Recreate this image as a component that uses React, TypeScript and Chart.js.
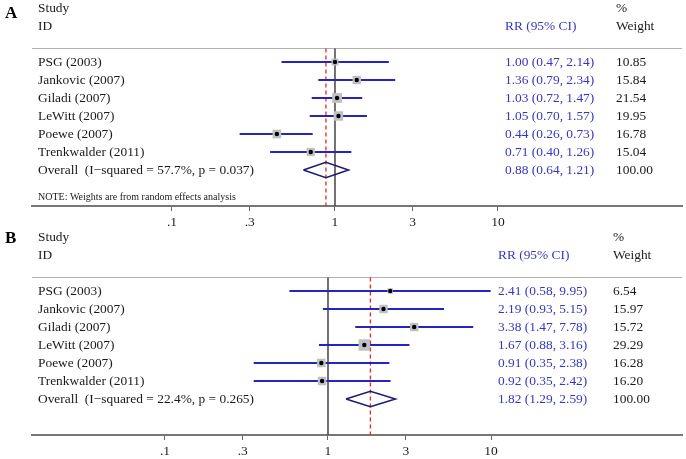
import React, { useEffect, useRef } from "react";
import { Chart, registerables } from "chart.js";
Chart.register(...registerables);

const studies = ["PSG (2003)", "Jankovic (2007)", "Giladi (2007)", "LeWitt (2007)", "Poewe (2007)", "Trenkwalder (2011)"];

const rrA = [1.0, 1.36, 1.03, 1.05, 0.44, 0.71];
const lowA = [0.47, 0.79, 0.72, 0.7, 0.26, 0.4];
const highA = [2.14, 2.34, 1.47, 1.57, 0.73, 1.26];
const weightA = [10.85, 15.84, 21.54, 19.95, 16.78, 15.04];
const overallA = [0.88, 0.64, 1.21];
const overallLabelA = "Overall  (I\u2212squared = 57.7%, p = 0.037)";

const rrB = [2.41, 2.19, 3.38, 1.67, 0.91, 0.92];
const lowB = [0.58, 0.93, 1.47, 0.88, 0.35, 0.35];
const highB = [9.95, 5.15, 7.78, 3.16, 2.38, 2.42];
const weightB = [6.54, 15.97, 15.72, 29.29, 16.28, 16.2];
const overallB = [1.82, 1.29, 2.59];
const overallLabelB = "Overall  (I\u2212squared = 22.4%, p = 0.265)";

const tickValues = [0.1, 0.3, 1, 3, 10];
const tickLabels = [".1", ".3", "1", "3", "10"];

const noteText = "NOTE: Weights are from random effects analysis";

const SERIF = '"Liberation Serif", "Times New Roman", serif';
const BLUE = "#2424c0";
const TEXT_BLUE = "#3535c8";
const NAVY = "#1c1c70";

type PanelProps = {
  letter: string;
  letterY: number;
  rr: number[];
  low: number[];
  high: number[];
  weight: number[];
  overall: number[];
  overallLabel: string;
  note: string | null;
  xMin: number;
  xMax: number;
  ciX: number;
  wX: number;
};

const fmt = (v: number) => v.toFixed(2);

function ForestPanel(p: PanelProps) {
  const ref = useRef<HTMLCanvasElement | null>(null);
  useEffect(() => {
    if (!ref.current) return;
    const n = p.rr.length;
    const sepY = -0.75;
    const yMin = -3.444;
    const yMax = 8;

    const datasets: any[] = [];
    datasets.push({
      label: "dots",
      data: p.rr.map((v, i) => ({ x: v, y: i })),
      pointStyle: "circle",
      pointRadius: 2.2,
      backgroundColor: "#000",
      borderColor: "#000",
      borderWidth: 0,
      showLine: false,
      order: 0,
    });
    datasets.push({
      label: "boxes",
      data: p.rr.map((v, i) => ({ x: v, y: i })),
      pointStyle: "rect",
      pointRadius: p.weight.map((w) => 1.5 * Math.sqrt(w)),
      backgroundColor: "#c0c0c0",
      borderWidth: 0,
      showLine: false,
      order: 1,
    });
    for (let i = 0; i < n; i++) {
      datasets.push({
        label: "ci" + i,
        data: [
          { x: p.low[i], y: i },
          { x: p.high[i], y: i },
        ],
        showLine: true,
        borderColor: BLUE,
        borderWidth: 2,
        pointRadius: 0,
        order: 2,
      });
    }
    const h = 0.43;
    datasets.push({
      label: "diamond",
      data: [
        { x: p.overall[1], y: n },
        { x: p.overall[0], y: n - h },
        { x: p.overall[2], y: n },
        { x: p.overall[0], y: n + h },
        { x: p.overall[1], y: n },
      ],
      showLine: true,
      borderColor: NAVY,
      borderWidth: 1.6,
      borderJoinStyle: "miter",
      pointRadius: 0,
      fill: false,
      order: 2,
    });
    datasets.push({
      label: "overallLine",
      data: [
        { x: p.overall[0], y: sepY },
        { x: p.overall[0], y: yMax },
      ],
      showLine: true,
      borderColor: "#f02424",
      borderWidth: 1.3,
      borderDash: [4, 3],
      pointRadius: 0,
      order: 3,
    });
    datasets.push({
      label: "nullLine",
      data: [
        { x: 1, y: sepY },
        { x: 1, y: yMax },
      ],
      showLine: true,
      borderColor: "#444",
      borderWidth: 1.5,
      pointRadius: 0,
      order: 4,
    });

    const textPlugin = {
      id: "forestText",
      beforeDatasetsDraw(chart: any) {
        const ctx = chart.ctx;
        const ys = chart.scales.y;
        const area = chart.chartArea;
        ctx.save();
        ctx.strokeStyle = "#b0b0b0";
        ctx.lineWidth = 1;
        const sy = Math.round(ys.getPixelForValue(sepY)) + 0.5;
        ctx.beginPath();
        ctx.moveTo(area.left, sy);
        ctx.lineTo(area.right, sy);
        ctx.stroke();
        ctx.restore();
      },
      afterDraw(chart: any) {
        const ctx = chart.ctx;
        const ys = chart.scales.y;
        ctx.save();
        ctx.textBaseline = "middle";
        ctx.textAlign = "left";
        ctx.fillStyle = "#000";
        ctx.font = "bold 17px " + SERIF;
        ctx.fillText(p.letter, 5, p.letterY);
        ctx.font = "13.4px " + SERIF;
        ctx.fillStyle = "#1a1a1a";
        ctx.fillText("Study", 38, ys.getPixelForValue(-2.95));
        ctx.fillText("ID", 38, ys.getPixelForValue(-2));
        ctx.fillText("%", p.wX, ys.getPixelForValue(-2.95));
        ctx.fillText("Weight", p.wX, ys.getPixelForValue(-2));
        ctx.fillStyle = TEXT_BLUE;
        ctx.fillText("RR (95% CI)", p.ciX, ys.getPixelForValue(-2));
        for (let i = 0; i < n; i++) {
          const y = ys.getPixelForValue(i);
          ctx.fillStyle = "#1a1a1a";
          ctx.fillText(studies[i], 38, y);
          ctx.fillText(fmt(p.weight[i]), p.wX, y);
          ctx.fillStyle = TEXT_BLUE;
          ctx.fillText(`${fmt(p.rr[i])} (${fmt(p.low[i])}, ${fmt(p.high[i])})`, p.ciX, y);
        }
        const yo = ys.getPixelForValue(n);
        ctx.fillStyle = "#1a1a1a";
        ctx.fillText(p.overallLabel, 38, yo);
        ctx.fillText("100.00", p.wX, yo);
        ctx.fillStyle = TEXT_BLUE;
        ctx.fillText(`${fmt(p.overall[0])} (${fmt(p.overall[1])}, ${fmt(p.overall[2])})`, p.ciX, yo);
        if (p.note) {
          ctx.fillStyle = "#1a1a1a";
          ctx.font = "10px " + SERIF;
          ctx.fillText(p.note, 38, ys.getPixelForValue(7.5));
        }
        ctx.restore();
      },
    };

    const chart = new Chart(ref.current, {
      type: "scatter",
      data: { datasets },
      options: {
        animation: false,
        responsive: false,
        maintainAspectRatio: false,
        layout: { autoPadding: false, padding: { left: 32, right: 4, top: 0, bottom: 0 } },
        plugins: { legend: { display: false }, tooltip: { enabled: false } },
        scales: {
          x: {
            type: "logarithmic",
            min: p.xMin,
            max: p.xMax,
            afterBuildTicks: (scale: any) => {
              scale.ticks = tickValues.map((v) => ({ value: v }));
            },
            afterFit: (scale: any) => {
              scale.height = 24;
            },
            ticks: {
              autoSkip: false,
              maxRotation: 0,
              padding: 3,
              color: "#1a1a1a",
              font: { family: SERIF, size: 13.5 },
              callback: (v: any) => {
                const idx = tickValues.indexOf(Number(v));
                return idx >= 0 ? tickLabels[idx] : "";
              },
            },
            grid: { display: true, drawOnChartArea: false, drawTicks: true, tickLength: 5, color: "#666", lineWidth: 1 },
            border: { display: true, color: "#777", width: 2 },
          },
          y: {
            type: "linear",
            display: false,
            reverse: true,
            min: yMin,
            max: yMax,
          },
        },
      },
      plugins: [textPlugin],
    } as any);
    return () => chart.destroy();
  }, []);
  return <canvas ref={ref} width={686} height={230} style={{ display: "block", width: 686, height: 230 }} />;
}

export default function App() {
  return (
    <div style={{ position: "absolute", left: 0, top: 0, width: 686, height: 459, background: "#fff", overflow: "hidden" }}>
      <div style={{ position: "absolute", left: 0, top: 0 }}>
        <ForestPanel
          letter="A"
          letterY={14}
          rr={rrA}
          low={lowA}
          high={highA}
          weight={weightA}
          overall={overallA}
          overallLabel={overallLabelA}
          note={noteText}
          xMin={0.01384}
          xMax={134.6}
          ciX={505}
          wX={616}
        />
      </div>
      <div style={{ position: "absolute", left: 0, top: 229 }}>
        <ForestPanel
          letter="B"
          letterY={10}
          rr={rrB}
          low={lowB}
          high={highB}
          weight={weightB}
          overall={overallB}
          overallLabel={overallLabelB}
          note={null}
          xMin={0.01528}
          xMax={148.5}
          ciX={498}
          wX={613}
        />
      </div>
    </div>
  );
}
